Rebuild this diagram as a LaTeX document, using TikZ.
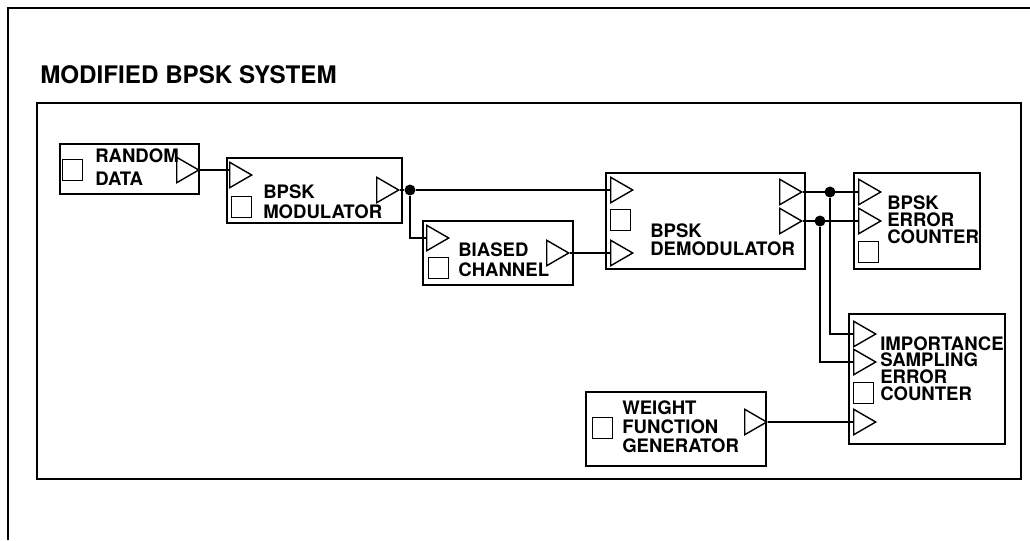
\documentclass[tikz,border=0pt]{standalone}
\usepackage{fontspec}
\setmainfont{TeX Gyre Heros}
\usetikzlibrary{positioning, shapes.geometric}

\begin{document}
\begin{tikzpicture}[x=0.025cm, y=-0.025cm,
    blk/.style 2 args={draw, line width=1.2pt, anchor=north west, inner sep=0pt, minimum width=#1*0.025cm, minimum height=#2*0.025cm},
    tri/.style={draw, line width=1pt, isosceles triangle, isosceles triangle apex angle=60, shape border rotate=0, minimum width=22*0.025cm, minimum height=22*0.025cm, inner sep=0pt, anchor=west},
    sq/.style={draw, line width=1pt, minimum width=20*0.025cm, minimum height=21*0.025cm, inner sep=0pt, anchor=north west},
    lbl/.style={anchor=north west, inner sep=0pt, align=left, font=\fontsize{13.2}{#1}\selectfont\bfseries},
    jdot/.style={circle, fill, inner sep=0pt, minimum size=11*0.025cm},
    wire/.style={line width=1.2pt}
]
\useasboundingbox (0,0) rectangle (1030,540);

% frames
\draw[line width=1.2pt] (8,540) -- (8,8) -- (1030,8);
\draw[line width=1.2pt] (37,103) rectangle (1021,479);
\node[anchor=north west, inner sep=0pt, font=\fontsize{17.2}{20}\selectfont\bfseries] (title) at (40,65) {MODIFIED BPSK SYSTEM};

% blocks
\node[blk={139}{50}] (rnd) at (59,143) {};
\node[blk={175}{65}] (mod) at (226,157) {};
\node[blk={150}{64}] (chan) at (422,220) {};
\node[blk={199}{96}] (demod) at (605,172) {};
\node[blk={126}{96}] (berr) at (853,172) {};
\node[blk={156}{130}] (iserr) at (848,313) {};
\node[blk={180}{74}] (wgt) at (585,391) {};

% labels
\node[lbl=16.4pt] (rndtxt) at (95,148) {RANDOM\\DATA};
\node[lbl=14.2pt] (modtxt) at (263,184) {BPSK\\MODULATOR};
\node[lbl=14.2pt] (chantxt) at (458,242) {BIASED\\CHANNEL};
\node[lbl=13.2pt] (demodtxt) at (650,223) {BPSK\\DEMODULATOR};
\node[lbl=12.3pt] (berrtxt) at (887,195) {BPSK\\ERROR\\COUNTER};
\node[lbl=12pt] (iserrtxt) at (880,336) {IMPORTANCE\\SAMPLING\\ERROR\\COUNTER};
\node[lbl=13.5pt] (wgttxt) at (622,400) {WEIGHT\\FUNCTION\\GENERATOR};

% control squares
\node[sq] (rnds) at (62,159) {};
\node[sq] (mods) at (231,196) {};
\node[sq] (chans) at (428,257) {};
\node[sq] (demods) at (610,209) {};
\node[sq] (berrs) at (858,241) {};
\node[sq] (iserrs) at (853,382) {};
\node[sq] (wgts) at (592,417) {};

% ports
\node[tri] (rndo) at (176,170) {};
\node[tri] (modi) at (229,175) {};
\node[tri] (modo) at (376,190) {};
\node[tri] (chani) at (426,238) {};
\node[tri] (chano) at (546,253) {};
\node[tri] (demi1) at (610,190) {};
\node[tri] (demi2) at (610,253) {};
\node[tri] (demo1) at (779,192) {};
\node[tri] (demo2) at (779,221) {};
\node[tri] (beri1) at (858,192) {};
\node[tri] (beri2) at (858,221) {};
\node[tri] (isi1) at (853,334) {};
\node[tri] (isi2) at (853,362) {};
\node[tri] (isi3) at (853,422) {};
\node[tri] (wgto) at (744,422) {};

% junctions
\node[jdot] (j1) at (410,190) {};
\node[jdot] (j2) at (830,192) {};
\node[jdot] (j3) at (820,221) {};

% wires
\draw[wire] (rndo.east) -- (rndo.east -| modi.west);
\draw[wire] (modo.east) -- (j1) -- (demi1.west);
\draw[wire] (j1) |- (chani.west);
\draw[wire] (chano.east) -- (demi2.west);
\draw[wire] (demo1.east) -- (beri1.west);
\draw[wire] (demo2.east) -- (beri2.west);
\draw[wire] (j2) |- (isi1.west);
\draw[wire] (j3) |- (isi2.west);
\draw[wire] (wgto.east) -- (isi3.west);

\end{tikzpicture}
\end{document}
